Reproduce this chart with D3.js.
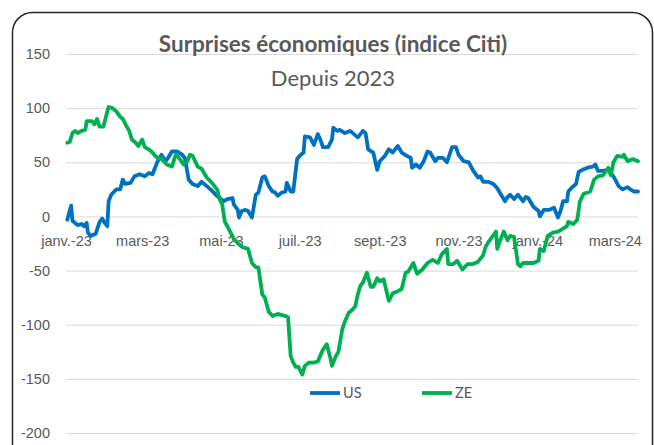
<!DOCTYPE html>
<html>
<head>
<meta charset="utf-8">
<script src="https://cdn.jsdelivr.net/npm/d3@7"></script>
<style>
body { margin: 0; background: #fff; }
svg { display: block; font-family: Lato, "Liberation Sans", sans-serif; }
</style>
</head>
<body>
<svg id="chart"></svg>
<script>
var w = 654; // Width of the SVG element
var h = 445; // Height of the SVG element

// US series (Citi surprise index)
var usDates = ["2023-01-02","2023-01-05","2023-01-06","2023-01-10","2023-01-13","2023-01-15","2023-01-17","2023-01-18","2023-01-20","2023-01-24",
  "2023-01-27","2023-01-29","2023-01-31","2023-02-02","2023-02-03","2023-02-05","2023-02-09","2023-02-12","2023-02-14","2023-02-16",
  "2023-02-20","2023-02-23","2023-02-27","2023-03-03","2023-03-06","2023-03-09","2023-03-11","2023-03-13","2023-03-16","2023-03-19",
  "2023-03-21","2023-03-24","2023-03-28","2023-04-01","2023-04-03","2023-04-06","2023-04-09","2023-04-13","2023-04-16","2023-04-20",
  "2023-04-23","2023-04-27","2023-04-30","2023-05-03","2023-05-06","2023-05-10","2023-05-11","2023-05-14","2023-05-15","2023-05-17",
  "2023-05-20","2023-05-22","2023-05-25","2023-05-28","2023-05-30","2023-06-02","2023-06-04","2023-06-07","2023-06-10","2023-06-12",
  "2023-06-14","2023-06-17","2023-06-20","2023-06-21","2023-06-24","2023-06-26","2023-06-29","2023-07-01","2023-07-04","2023-07-05",
  "2023-07-09","2023-07-12","2023-07-15","2023-07-17","2023-07-19","2023-07-23","2023-07-26","2023-07-27","2023-07-30","2023-08-01",
  "2023-08-05","2023-08-09","2023-08-15","2023-08-19","2023-08-21","2023-08-23","2023-08-27","2023-08-30","2023-09-01","2023-09-05",
  "2023-09-08","2023-09-11","2023-09-15","2023-09-18","2023-09-22","2023-09-25","2023-09-26","2023-09-29","2023-10-02","2023-10-05",
  "2023-10-08","2023-10-10","2023-10-14","2023-10-16","2023-10-20","2023-10-23","2023-10-27","2023-10-30","2023-11-01","2023-11-05",
  "2023-11-09","2023-11-12","2023-11-16","2023-11-18","2023-11-20","2023-11-24","2023-11-28","2023-12-01","2023-12-05","2023-12-07",
  "2023-12-09","2023-12-11","2023-12-14","2023-12-17","2023-12-21","2023-12-23","2023-12-25","2023-12-29","2024-01-02","2024-01-03",
  "2024-01-06","2024-01-10","2024-01-14","2024-01-17","2024-01-19","2024-01-21","2024-01-24","2024-01-25","2024-01-28","2024-01-31",
  "2024-02-02","2024-02-05","2024-02-09","2024-02-13","2024-02-15","2024-02-17","2024-02-21","2024-02-25","2024-02-29","2024-03-04",
  "2024-03-07","2024-03-11","2024-03-13","2024-03-16","2024-03-19"];
var usValues = [-3,10,-4,-8,-7,-9,-6,-15,-18,-16,
  -5,-2,-6,-9,14,20,25,25,34,30,
  31,37,39,37,40,39,45,51,57,51,
  54,60,60,57,54,34,30,28,32,28,
  25,20,17,14,16,17,11,6,-1,5,
  6,5,-1,20,22,36,37,28,23,22,
  19,22,23,31,23,23,53,56,59,74,
  73,66,76,71,64,64,71,82,79,80,
  77,79,73,79,77,62,59,43,51,56,
  62,59,65,59,56,54,45,48,45,51,
  60,59,51,54,54,50,64,64,57,51,
  50,43,36,37,32,32,30,26,18,14,
  18,20,16,20,14,18,17,9,5,0,
  6,6,8,-1,5,14,14,23,27,30,
  41,43,45,46,48,42,42,43,37,28,
  25,27,25,23,23];

// Zone euro series
var zeDates = ["2023-01-02","2023-01-04","2023-01-06","2023-01-08","2023-01-10","2023-01-13","2023-01-16","2023-01-17","2023-01-21","2023-01-23",
  "2023-01-25","2023-01-27","2023-01-30","2023-02-02","2023-02-03","2023-02-06","2023-02-09","2023-02-12","2023-02-14","2023-02-17",
  "2023-02-19","2023-02-21","2023-02-24","2023-02-26","2023-03-01","2023-03-03","2023-03-06","2023-03-09","2023-03-11","2023-03-13",
  "2023-03-16","2023-03-20","2023-03-24","2023-03-27","2023-03-29","2023-04-02","2023-04-05","2023-04-07","2023-04-09","2023-04-13",
  "2023-04-16","2023-04-20","2023-04-24","2023-04-28","2023-04-30","2023-05-02","2023-05-04","2023-05-06","2023-05-11","2023-05-17",
  "2023-05-22","2023-05-25","2023-05-28","2023-05-30","2023-06-02","2023-06-04","2023-06-07","2023-06-10","2023-06-14","2023-06-20",
  "2023-06-22","2023-06-24","2023-06-26","2023-06-28","2023-06-30","2023-07-03","2023-07-05","2023-07-08","2023-07-12","2023-07-15",
  "2023-07-19","2023-07-22","2023-07-25","2023-07-26","2023-07-29","2023-07-31","2023-08-03","2023-08-05","2023-08-08","2023-08-11",
  "2023-08-13","2023-08-15","2023-08-17","2023-08-19","2023-08-22","2023-08-25","2023-08-27","2023-08-30","2023-09-01","2023-09-04",
  "2023-09-08","2023-09-11","2023-09-15","2023-09-18","2023-09-21","2023-09-23","2023-09-27","2023-09-30","2023-10-04","2023-10-08",
  "2023-10-12","2023-10-16","2023-10-19","2023-10-23","2023-10-24","2023-10-28","2023-10-31","2023-11-04","2023-11-08","2023-11-12",
  "2023-11-16","2023-11-20","2023-11-22","2023-11-24","2023-11-27","2023-11-30","2023-12-01","2023-12-03","2023-12-06","2023-12-09",
  "2023-12-11","2023-12-14","2023-12-17","2023-12-19","2023-12-21","2023-12-25","2023-12-29","2024-01-02","2024-01-03","2024-01-06",
  "2024-01-09","2024-01-13","2024-01-17","2024-01-20","2024-01-24","2024-01-25","2024-01-29","2024-02-01","2024-02-03","2024-02-06",
  "2024-02-11","2024-02-14","2024-02-17","2024-02-21","2024-02-25","2024-02-27","2024-02-29","2024-03-03","2024-03-07","2024-03-08",
  "2024-03-11","2024-03-15","2024-03-19"];
var zeValues = [68,69,77,79,77,79,80,88,88,85,
  90,83,83,97,101,100,97,92,90,83,
  79,71,68,65,71,64,62,59,56,54,
  53,48,46,57,55,48,51,57,56,46,
  44,36,31,25,16,11,-5,-9,-21,-28,
  -30,-43,-47,-47,-72,-75,-88,-92,-90,-92,
  -93,-129,-135,-139,-139,-146,-138,-135,-135,-134,
  -123,-118,-132,-138,-129,-125,-104,-97,-89,-86,
  -83,-72,-64,-61,-52,-65,-65,-57,-60,-58,
  -78,-71,-69,-67,-52,-51,-43,-53,-49,-43,
  -40,-43,-35,-30,-44,-44,-41,-49,-44,-44,
  -42,-36,-28,-24,-19,-14,-30,-23,-14,-22,
  -18,-19,-44,-46,-43,-43,-43,-41,-30,-32,
  -18,-15,-14,-12,-9,-5,-7,-3,14,21,
  23,34,37,38,45,38,50,56,55,57,
  51,53,51];

var yTicks = [150, 100, 50, 0, -50, -100, -150, -200];
var xTickDates = ["2023-01-01","2023-03-01","2023-05-01","2023-07-01","2023-09-01","2023-11-01","2024-01-01","2024-03-01"];
var xTickLabels = ["janv.-23","mars-23","mai-23","juil.-23","sept.-23","nov.-23","janv.-24","mars-24"];
var seriesNames = ["US", "ZE"];
var seriesColors = ["#0070C0", "#00B050"];

var parseDate = d3.timeParse("%Y-%m-%d");
var textColor = "#595959";

var svg = d3.select("#chart")
  .attr("width", w)
  .attr("height", h);

// chart frame with rounded corners
svg.append("rect")
  .attr("x", 12.5)
  .attr("y", 12.5)
  .attr("width", 640)
  .attr("height", 460)
  .attr("rx", 20)
  .attr("fill", "#fff")
  .attr("stroke", "#262626")
  .attr("stroke-width", 1.5);

var x = d3.scaleTime()
  .domain([parseDate("2023-01-01"), parseDate("2024-03-19")])
  .range([66, 638]);

var y = d3.scaleLinear()
  .domain([-200, 150])
  .range([433, 54]);

// horizontal grid + y labels
var yAxis = svg.append("g")
  .attr("transform", "translate(66,0)")
  .call(d3.axisLeft(y)
    .tickValues(yTicks)
    .tickSize(-572)
    .tickPadding(16)
    .tickFormat(function(d) { return String(d); }));
yAxis.select(".domain").remove();
yAxis.selectAll("line").attr("stroke", "#d9d9d9").attr("stroke-width", 1);
yAxis.selectAll("text")
  .attr("fill", textColor)
  .style("font-size", "14.5px");

// x labels next to the zero line
var tickMap = {};
xTickDates.forEach(function(d, i) { tickMap[+parseDate(d)] = xTickLabels[i]; });
var xAxis = svg.append("g")
  .attr("transform", "translate(0," + y(0) + ")")
  .call(d3.axisBottom(x)
    .tickValues(xTickDates.map(parseDate))
    .tickSize(0)
    .tickPadding(19)
    .tickFormat(function(d) { return tickMap[+d]; }));
xAxis.select(".domain").remove();
xAxis.selectAll("text")
  .attr("fill", textColor)
  .style("font-size", "14.5px");

// lines
var line = d3.line()
  .x(function(d) { return x(d.date); })
  .y(function(d) { return y(d.value); });

var series = [
  usDates.map(function(d, i) { return { date: parseDate(d), value: usValues[i] }; }),
  zeDates.map(function(d, i) { return { date: parseDate(d), value: zeValues[i] }; })
];

series.forEach(function(s, i) {
  svg.append("path")
    .datum(s)
    .attr("d", line)
    .attr("fill", "none")
    .attr("stroke", seriesColors[i])
    .attr("stroke-width", 3.8)
    .attr("stroke-linejoin", "round")
    .attr("stroke-linecap", "round");
});

// title
svg.append("text")
  .attr("x", 333)
  .attr("y", 52)
  .attr("text-anchor", "middle")
  .attr("fill", textColor)
  .style("font-size", "22.5px")
  .style("font-weight", "bold")
  .text("Surprises économiques (indice Citi)");

svg.append("text")
  .attr("x", 333)
  .attr("y", 86)
  .attr("text-anchor", "middle")
  .attr("fill", textColor)
  .style("font-size", "22px")
  .text("Depuis 2023");

// legend
var legendX = [310, 422];
seriesNames.forEach(function(name, i) {
  var g = svg.append("g").attr("transform", "translate(" + legendX[i] + ",393)");
  g.append("line")
    .attr("x1", 0).attr("x2", 30)
    .attr("stroke", seriesColors[i])
    .attr("stroke-width", 3.8);
  g.append("text")
    .attr("x", 33)
    .attr("dy", "0.35em")
    .attr("fill", textColor)
    .style("font-size", "14.5px")
    .text(name);
});
</script>
</body>
</html>
